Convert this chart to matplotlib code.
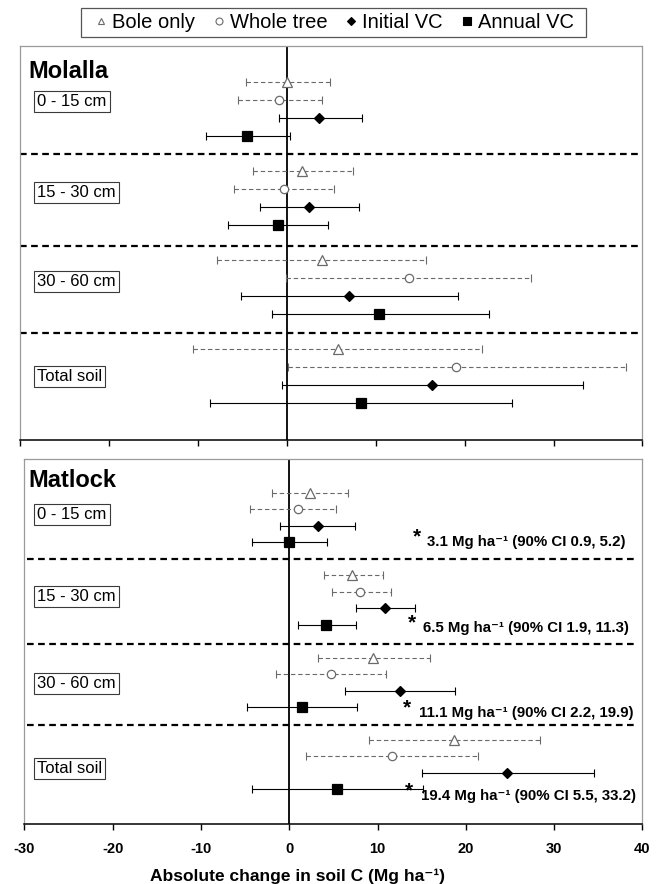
import matplotlib
matplotlib.use("Agg")
import matplotlib.pyplot as plt
from matplotlib.lines import Line2D
from matplotlib.patches import Rectangle
import numpy as np

plt.rcParams['font.family'] = ['Liberation Sans', 'DejaVu Sans']
plt.rcParams['axes.unicode_minus'] = False

# ---------------- data ----------------
depths = ["0 - 15 cm", "15 - 30 cm", "30 - 60 cm", "Total soil"]
series = ["Bole only", "Whole tree", "Initial VC", "Annual VC"]

# Molalla: mean change and 90% CI bounds (Mg ha-1)
mol_bole = [0.0, 1.75, 3.9, 5.7]
mol_bole_lo = [-4.6, -3.8, -7.9, -10.6]
mol_bole_hi = [4.8, 7.4, 15.7, 21.9]
mol_whole = [-0.85, -0.33, 13.7, 19.0]
mol_whole_lo = [-5.5, -5.9, -0.1, 0.1]
mol_whole_hi = [3.9, 5.3, 27.5, 38.1]
mol_init = [3.65, 2.5, 7.0, 16.35]
mol_init_lo = [-0.9, -3.0, -5.2, -0.5]
mol_init_hi = [8.4, 8.1, 19.3, 33.3]
mol_annual = [-4.45, -1.0, 10.4, 8.3]
mol_annual_lo = [-9.1, -6.6, -1.7, -8.7]
mol_annual_hi = [0.3, 4.6, 22.7, 25.3]

# Matlock
mat_bole = [2.3, 7.1, 9.5, 18.7]
mat_bole_lo = [-1.9, 3.9, 3.2, 9.0]
mat_bole_hi = [6.6, 10.6, 15.9, 28.4]
mat_whole = [0.95, 8.0, 4.7, 11.6]
mat_whole_lo = [-4.5, 4.8, -1.5, 1.9]
mat_whole_hi = [5.3, 11.5, 11.0, 21.4]
mat_init = [3.2, 10.8, 12.6, 24.7]
mat_init_lo = [-1.1, 7.6, 6.3, 15.0]
mat_init_hi = [7.5, 14.2, 18.8, 34.5]
mat_annual = [0.0, 4.2, 1.5, 5.4]
mat_annual_lo = [-4.2, 1.0, -4.8, -4.2]
mat_annual_hi = [4.3, 7.6, 7.7, 15.2]

# Matlock VC effect estimates with 90% CI
vc_effect = [3.1, 6.5, 11.1, 19.4]
vc_effect_lo = [0.9, 1.9, 2.2, 5.5]
vc_effect_hi = [5.2, 11.3, 19.9, 33.2]

xticks = [-30, -20, -10, 0, 10, 20, 30, 40]

# ---------------- styling ----------------
GRAY = '#6a6a6a'
styles = {
    "Bole only": dict(marker='^', ms=6.5, mfc='white', mec=GRAY, color=GRAY,
                      ls=(0, (4, 2.5)), lw=0.8),
    "Whole tree": dict(marker='o', ms=6.0, mfc='white', mec=GRAY, color=GRAY,
                       ls=(0, (4, 2.5)), lw=0.8),
    "Initial VC": dict(marker='D', ms=4.6, mfc='black', mec='black', color='black',
                       ls='solid', lw=0.8),
    "Annual VC": dict(marker='s', ms=6.5, mfc='black', mec='black', color='black',
                      ls='solid', lw=0.8),
}

W, H = 660, 884
fig = plt.figure(figsize=(W / 100, H / 100), dpi=100)


def axes_px(left, top, right, bottom):
    return fig.add_axes([left / W, 1 - bottom / H, (right - left) / W, (bottom - top) / H])


ax_top = axes_px(20.2, 46, 642.4, 440)
ax_bot = axes_px(24.4, 459, 642.4, 824)


def draw_site(ax, data, title, title_dx, title_y, label_dx, label_ys, sep_span):
    ax.set_xlim(-30, 40)
    ax.set_ylim(20.1, -2.05)
    ax.axvline(0, color='black', lw=1.3, zorder=1)
    for ysep in (4.0, 9.2, 14.1):
        ax.axhline(ysep, xmin=sep_span[0], xmax=sep_span[1], color='black',
                   lw=1.6, ls=(0, (3, 2)), zorder=1)
    for s_idx, name in enumerate(series):
        mean, lo, hi = (np.array(v) for v in data[name])
        ypos = np.arange(len(depths)) * 5 + s_idx
        st = styles[name]
        eb = ax.errorbar(mean, ypos, xerr=[mean - lo, hi - mean], fmt='none',
                         ecolor=st['color'], elinewidth=st['lw'], capsize=2.6,
                         capthick=st['lw'], zorder=2)
        eb[2][0].set_linestyle(st['ls'])
        ax.plot(mean, ypos, ls='none', marker=st['marker'], ms=st['ms'],
                mfc=st['mfc'], mec=st['mec'], mew=0.9, zorder=3)
    ax.set_xticks(xticks)
    ax.set_yticks([])
    for side in ('left', 'top', 'right'):
        ax.spines[side].set_color('#9a9a9a')
        ax.spines[side].set_linewidth(0.9)
    ax.spines['bottom'].set_color('black')
    ax.spines['bottom'].set_linewidth(1.1)
    ax.tick_params(axis='x', direction='out', length=4, width=1, pad=9)
    trans = ax.get_yaxis_transform()
    ax.annotate(title, xy=(0, title_y), xycoords=trans, xytext=(title_dx, 0),
                textcoords='offset points', ha='left', va='baseline',
                fontsize=17, fontweight='bold')
    for lab, ly in zip(depths, label_ys):
        ax.annotate(lab, xy=(0, ly), xycoords=trans, xytext=(label_dx, 0),
                    textcoords='offset points', ha='left', va='center',
                    fontsize=12,
                    bbox=dict(boxstyle='square,pad=0.18', fc='white',
                              ec='#3a3a3a', lw=0.8))


molalla = {
    "Bole only": (mol_bole, mol_bole_lo, mol_bole_hi),
    "Whole tree": (mol_whole, mol_whole_lo, mol_whole_hi),
    "Initial VC": (mol_init, mol_init_lo, mol_init_hi),
    "Annual VC": (mol_annual, mol_annual_lo, mol_annual_hi),
}
matlock = {
    "Bole only": (mat_bole, mat_bole_lo, mat_bole_hi),
    "Whole tree": (mat_whole, mat_whole_lo, mat_whole_hi),
    "Initial VC": (mat_init, mat_init_lo, mat_init_hi),
    "Annual VC": (mat_annual, mat_annual_lo, mat_annual_hi),
}

draw_site(ax_top, molalla, "Molalla", 5.6, -0.26, 12.3,
          [1.06, 6.2, 11.19, 16.53], (0.0, 1.0))
draw_site(ax_bot, matlock, "Matlock", 2.8, -0.36, 9.3,
          [1.33, 6.3, 11.58, 16.73], (0.004, 0.988))

ax_top.tick_params(axis='x', labelbottom=False)
for lbl in ax_bot.get_xticklabels():
    lbl.set_fontweight('bold')
    lbl.set_fontsize(10.5)

# VC effect annotations in the Matlock panel
star_x = [14.47, 13.90, 13.34, 13.56]
text_x = [15.57, 15.15, 14.65, 14.89]
text_y = [3.24, 8.42, 13.59, 18.65]
for v, lo, hi, sx, tx, ty in zip(vc_effect, vc_effect_lo, vc_effect_hi,
                                 star_x, text_x, text_y):
    ax_bot.annotate("*", xy=(sx, ty), xytext=(0, 2.5), textcoords='offset points',
                    ha='center', va='baseline', fontsize=15, fontweight='bold')
    ax_bot.text(tx, ty,
                f"{v:.1f} Mg ha\u207b\u00b9 (90% CI {lo:.1f}, {hi:.1f})",
                ha='left', va='baseline', fontsize=10.8, fontweight='bold')

fig.text(297.5 / W, 1 - 876 / H,
         "Absolute change in soil C (Mg ha\u207b\u00b9)",
         ha='center', va='center', fontsize=12.5, fontweight='bold')

# legend: entries laid out without a frame, box drawn separately
handles = []
leg_ms = {"Bole only": 5.0, "Whole tree": 5.0, "Initial VC": 3.8, "Annual VC": 5.5}
for name in series:
    st = styles[name]
    handles.append(Line2D([], [], ls='none', marker=st['marker'], ms=leg_ms[name],
                          mfc=st['mfc'], mec=st['mec'], mew=0.8))
leg = fig.legend(handles, series, loc='center left',
                 bbox_to_anchor=(93 / W, 1 - 22.5 / H), ncol=4,
                 fontsize=14.5, frameon=False,
                 handlelength=0.8, handletextpad=0.15, columnspacing=0.78,
                 borderpad=0, borderaxespad=0)
fig.patches.append(Rectangle((81 / W, 1 - 37 / H), 505 / W, 29 / H,
                             transform=fig.transFigure, fill=False,
                             ec='#555555', lw=0.9))

fig.savefig("out.png", dpi=100)
